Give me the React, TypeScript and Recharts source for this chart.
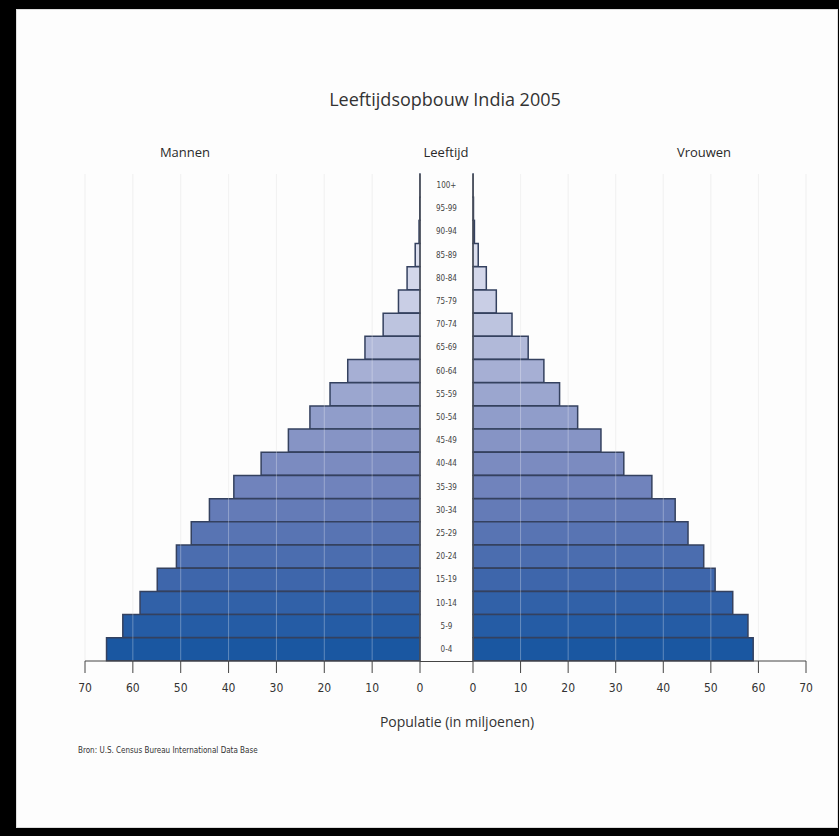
import React from 'react'
import { BarChart, Bar, XAxis, YAxis, CartesianGrid, Cell, ReferenceLine } from 'recharts'

// age groups from top (oldest) to bottom (youngest)
const ageGroups = [
  '100+', '95-99', '90-94', '85-89', '80-84', '75-79', '70-74', '65-69', '60-64', '55-59', '50-54',
  '45-49', '40-44', '35-39', '30-34', '25-29', '20-24', '15-19', '10-14', '5-9', '0-4',
]

// population in millions
const men = [0.02, 0.05, 0.2, 1.0, 2.7, 4.5, 7.7, 11.5, 15.1, 18.8, 23.0, 27.5, 33.2, 38.9, 44.0, 47.8, 50.9, 54.9, 58.5, 62.1, 65.5]
const women = [0.03, 0.1, 0.3, 1.1, 2.8, 4.9, 8.2, 11.6, 14.9, 18.2, 22.0, 26.9, 31.7, 37.6, 42.5, 45.2, 48.5, 50.9, 54.6, 57.8, 58.9]

const xTicks = [0, 10, 20, 30, 40, 50, 60, 70]

const rowColors = [
  '#eef0f7', '#e9ebf4', '#e3e6f1', '#dcdfee', '#d3d7ea', '#c9cee5', '#bdc4df', '#b1b9d9', '#a6afd4',
  '#9ba6cf', '#909dca', '#8694c5', '#7b8bc0', '#7083bc', '#647bb7', '#5874b3', '#4b6daf', '#3e66ab',
  '#3161a8', '#255ca5', '#1a57a1',
]

const rows = ageGroups.map((age, i) => ({ age, men: men[i], women: women[i] }))

const font = "'Open Sans', 'DejaVu Sans', sans-serif"
const smallFont = "'DejaVu Sans Condensed', 'Liberation Sans Narrow', sans-serif"

const AgeTick = ({ y, payload }: any) => (
  <text x={26.5} y={y} textAnchor="middle" dominantBaseline="central" fontSize={8} fill="#444" fontFamily={smallFont}>
    {payload.value}
  </text>
)

const tickStyle = { fill: '#333', fontSize: 12, fontFamily: smallFont }

export default function App() {
  return (
    <div style={{ position: 'absolute', left: 0, top: 0, width: 839, height: 836, background: '#000', overflow: 'hidden' }}>
      <div style={{ position: 'absolute', left: 16, top: 9, width: 822, height: 819, background: '#fdfdfd', border: '1px solid #ddd', boxSizing: 'border-box' }} />

      <div style={{ position: 'absolute', left: 0, top: 87, width: 890, textAlign: 'center', fontFamily: font, fontSize: 18, color: '#333' }}>
        Leeftijdsopbouw India 2005
      </div>
      <div style={{ position: 'absolute', left: 135, top: 143, width: 100, textAlign: 'center', fontFamily: font, fontSize: 13, color: '#2a2a2a' }}>Mannen</div>
      <div style={{ position: 'absolute', left: 396, top: 143, width: 100, textAlign: 'center', fontFamily: font, fontSize: 13, color: '#2a2a2a' }}>Leeftijd</div>
      <div style={{ position: 'absolute', left: 654, top: 143, width: 100, textAlign: 'center', fontFamily: font, fontSize: 13, color: '#2a2a2a' }}>Vrouwen</div>

      <div style={{ position: 'absolute', left: 0, top: 0 }}>
        <BarChart width={440} height={720} data={rows} layout="vertical" barCategoryGap={0}
          margin={{ top: 174, right: 20, bottom: 0, left: 85 }}>
          <CartesianGrid horizontal={false} stroke="#ededed" />
          <XAxis type="number" domain={[0, 70]} ticks={xTicks} interval={0} reversed
            height={59} tickSize={12} tickMargin={10} stroke="#444" tick={tickStyle} />
          <YAxis type="category" dataKey="age" hide />
          <Bar dataKey="men" isAnimationActive={false} stroke="#34415f" strokeWidth={1.5}>
            {rows.map((r, i) => <Cell key={r.age} fill={rowColors[i]} />)}
          </Bar>
          {xTicks.slice(1).map(t => <ReferenceLine key={t} x={t} stroke="#ffffff" strokeOpacity={0.3} />)}
          <ReferenceLine x={0} stroke="#555" />
        </BarChart>
      </div>

      <div style={{ position: 'absolute', left: 420, top: 661, width: 53, height: 1, background: '#444' }} />

      <div style={{ position: 'absolute', left: 420, top: 0 }}>
        <BarChart width={419} height={720} data={rows} layout="vertical" barCategoryGap={0}
          margin={{ top: 174, right: 33, bottom: 0, left: 0 }}>
          <CartesianGrid horizontal={false} stroke="#ededed" />
          <XAxis type="number" domain={[0, 70]} ticks={xTicks} interval={0}
            height={59} tickSize={12} tickMargin={10} stroke="#444" tick={tickStyle} />
          <YAxis type="category" dataKey="age" width={53} tickLine={false} stroke="#555" tick={<AgeTick />} interval={0} />
          <Bar dataKey="women" isAnimationActive={false} stroke="#34415f" strokeWidth={1.5}>
            {rows.map((r, i) => <Cell key={r.age} fill={rowColors[i]} />)}
          </Bar>
          {xTicks.slice(1).map(t => <ReferenceLine key={t} x={t} stroke="#ffffff" strokeOpacity={0.3} />)}
        </BarChart>
      </div>

      <div style={{ position: 'absolute', left: 357, top: 712, width: 200, textAlign: 'center', fontFamily: font, fontSize: 14, color: '#333' }}>
        Populatie (in miljoenen)
      </div>
      <div style={{ position: 'absolute', left: 78, top: 746, fontFamily: smallFont, fontSize: 8, color: '#333' }}>
        Bron: U.S. Census Bureau International Data Base
      </div>
    </div>
  )
}
